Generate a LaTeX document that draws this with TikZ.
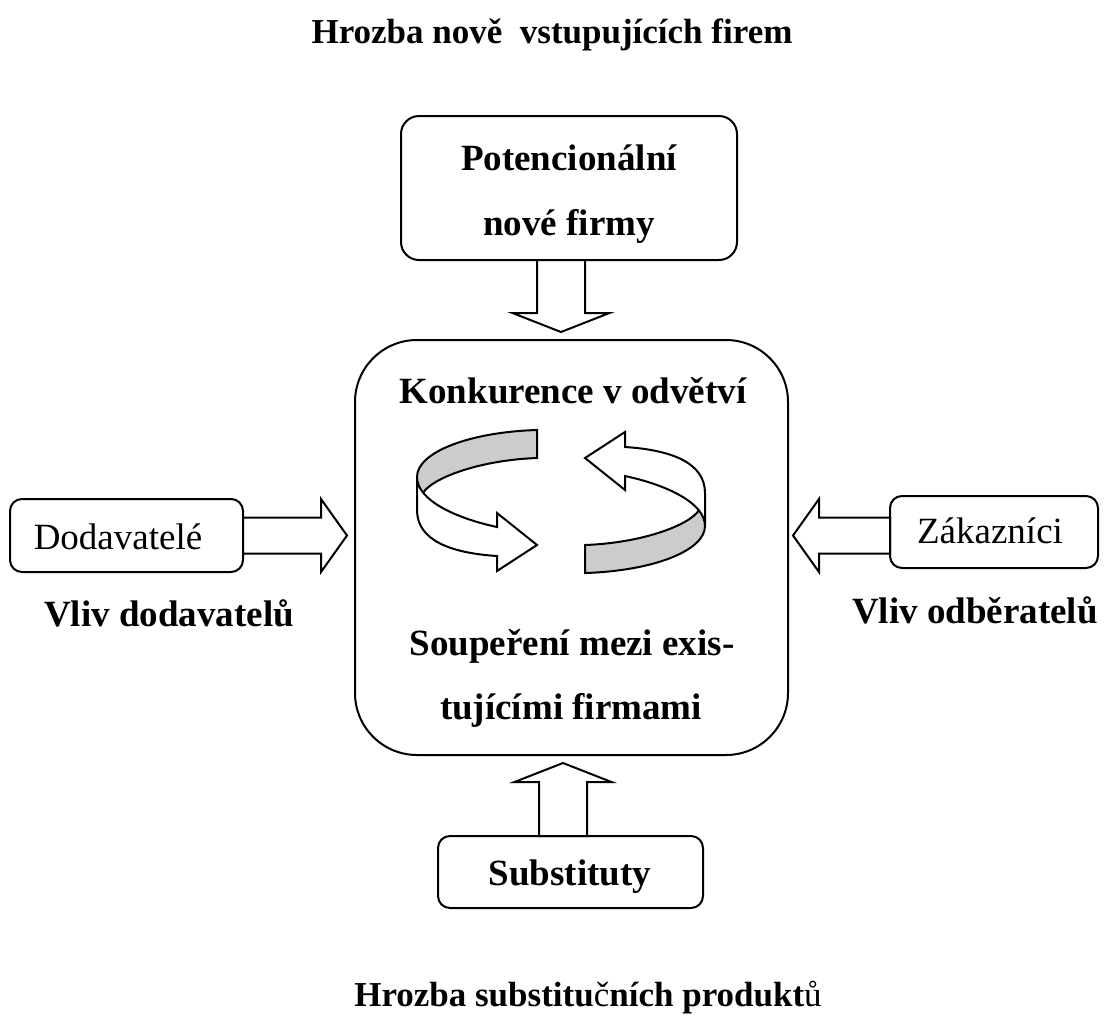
\documentclass[tikz,border=0pt]{standalone}
\usepackage{fontspec}
\setmainfont{Liberation Serif}
\usetikzlibrary{calc}

% hollow block arrow from #1 to the tip #2:
% #3 shaft half width, #4 head half width, #5 head length
\newcommand\blockarrow[5]{%
  \draw[blockarrow] let \p1=($(#2)-(#1)$), \n1={veclen(\x1,\y1)-#5} in
    ($(#1)!#3!90:(#2)$)
    -- ($(#1)!\n1!(#2)!#3!90:(#2)$)
    -- ($(#1)!\n1!(#2)!#4!90:(#2)$)
    -- (#2)
    -- ($(#1)!\n1!(#2)!#4!-90:(#2)$)
    -- ($(#1)!\n1!(#2)!#3!-90:(#2)$)
    -- ($(#1)!#3!-90:(#2)$) -- cycle;}

% one half of the circular ribbon: grey inner side at the back,
% white outer side in front ending in an arrow head
\newcommand\ribbonarrow{%
  \fill[bandgray] (537,430) .. controls (470,432) and (417,452) .. (417,477)
    -- (417,497) -- (423,493) .. controls (432,478) and (480,460) .. (537,458) -- cycle;
  \filldraw[ribbonline, fill=white] (417,477) .. controls (417,500) and (455,518) .. (497,527)
    -- (497,513) -- (537,545) -- (497,571) -- (497,556)
    .. controls (450,553) and (417,540) .. (417,510) -- cycle;
  \draw[ribbonline] (423,493) .. controls (432,478) and (480,460) .. (537,458)
    -- (537,430) .. controls (470,432) and (417,452) .. (417,477);}

\begin{document}
\begin{tikzpicture}[
  x=0.5pt, y=-0.5pt,
  line width=1pt,
  every node/.style={font=\fontsize{18.5}{22}\selectfont},
  box/.style={draw, line width=1pt, inner sep=0pt, rounded corners=#1},
  box/.default=6pt,
  lbl/.style={anchor=base, inner sep=0pt},
  bold/.style={lbl, font=\fontsize{18.5}{22}\selectfont\bfseries},
  heading/.style={lbl, font=\fontsize{17.5}{21}\selectfont\bfseries},
  blockarrow/.style={draw, fill=white, line width=1pt, line join=miter},
  ribbonline/.style={line width=1pt, line join=miter},
  bandgray/.style={fill=black!20}
]
\useasboundingbox (0,0) rectangle (1105,1019);

% boxes
\node[box=9pt, minimum width=168pt, minimum height=72pt] (top) at (569,188) {};
\node[box=31pt, minimum width=216.5pt, minimum height=207.5pt] (cbox) at (571.5,547.5) {};
\node[box, minimum width=116.5pt, minimum height=36.5pt] (dod) at (126.5,535.5) {};
\node[box, minimum width=104pt, minimum height=36pt] (zak) at (994,532) {};
\node[box, minimum width=132.5pt, minimum height=36pt] (sub) at (570.5,872) {};

% texts
\node[heading] (title1) at (552,43) {Hrozba nově\ \ vstupujících firem};
\node[bold] (pot1) at (569,170) {Potencionální};
\node[bold] (pot2) at (569,235) {nové firmy};
\node[bold] (konk) at (573,403) {Konkurence v odvětví};
\node[bold] (soup1) at (572,655) {Soupeření mezi exis-};
\node[bold] (soup2) at (571,719) {tujícími firmami};
\node[lbl] (dodt) at (118,549) {Dodavatelé};
\node[bold] (vd) at (169,626) {Vliv dodavatelů};
\node[lbl] (zakt) at (990,543) {Zákazníci};
\node[bold] (vo) at (975,623) {Vliv odběratelů};
\node[bold] (subt) at (570,885) {Substituty};
\node[heading] (title2) at (588,1006) {Hrozba substitu{\mdseries č}ních produkt{\mdseries ů}};

% free ends of the block arrows
\coordinate (da0) at (561,260);
\coordinate (da1) at (561,332);
\coordinate (ua0) at (563,836);
\coordinate (ua1) at (563,763);
\coordinate (ra0) at (243,535.5);
\coordinate (ra1) at (347,535.5);
\coordinate (la0) at (890,535.5);
\coordinate (la1) at (793,535.5);

\blockarrow{da0}{da1}{12pt}{24.25pt}{9.5pt}
\blockarrow{ua0}{ua1}{12pt}{24.25pt}{9.5pt}
\blockarrow{ra0}{ra1}{9pt}{18.25pt}{13pt}
\blockarrow{la0}{la1}{9pt}{18.25pt}{13pt}

% circular ribbon arrows
\ribbonarrow
\begin{scope}[rotate around={180:(561,501.5)}]
  \ribbonarrow
\end{scope}
\end{tikzpicture}
\end{document}
